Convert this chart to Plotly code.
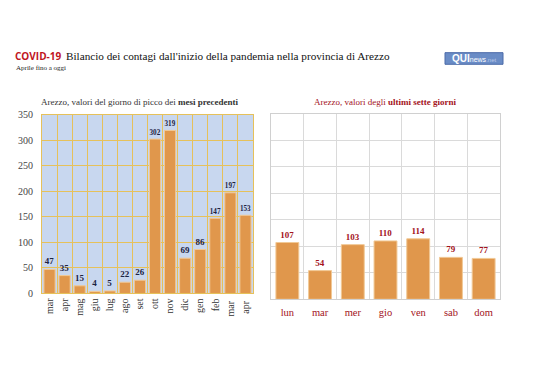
import plotly.graph_objects as go

W, H = 538, 380
OFF = 8  # page body margin
FW, FH = W - 2 * OFF, H - 2 * OFF

months = ["mar", "apr", "mag", "giu", "lug", "ago", "set", "ott", "nov", "dic", "gen", "feb", "mar ", "apr "]
month_vals = [47, 35, 15, 4, 5, 22, 26, 302, 319, 69, 86, 147, 197, 153]

days = ["lun", "mar", "mer", "gio", "ven", "sab", "dom"]
day_vals = [107, 54, 103, 110, 114, 79, 77]

y_ticks = [0, 50, 100, 150, 200, 250, 300, 350]

SERIF = "Liberation Serif"
ORANGE = "#e0974c"
GOLD = "#e6c15a"
NAVY = "#1c2342"
DARKRED = "#a3121c"

def px(x):
    return (x - OFF) / FW

def py(y):
    return 1 - (y - OFF) / FH

fig = go.Figure()

fig.add_trace(go.Bar(
    x=months, y=month_vals, text=month_vals, textposition="outside",
    textfont=dict(family=SERIF, size=9, color=NAVY, weight="bold"),
    marker=dict(color=ORANGE, line=dict(color="#f1c996", width=1)),
    width=0.74, cliponaxis=False, xaxis="x", yaxis="y", showlegend=False,
))

fig.add_trace(go.Bar(
    x=days, y=day_vals, text=day_vals, textposition="outside",
    textfont=dict(family=SERIF, size=9, color=DARKRED, weight="bold"),
    marker=dict(color=ORANGE, line=dict(color="#f1c996", width=1)),
    width=0.7, cliponaxis=False, xaxis="x2", yaxis="y2", showlegend=False,
))

fig.update_layout(
    width=FW, height=FH,
    margin=dict(l=0, r=0, t=0, b=0),
    paper_bgcolor="white",
    plot_bgcolor="white",
    font=dict(family=SERIF, color="#444"),
    xaxis=dict(domain=[px(42), px(253)], anchor="y", type="category",
               tickson="boundaries", showgrid=True, gridcolor=GOLD, gridwidth=1,
               tickangle=-90, tickfont=dict(family=SERIF, size=10, color="#333"),
               showline=True, linecolor=GOLD, mirror=True, ticks="", ticklen=0),
    yaxis=dict(domain=[py(297), py(112)], anchor="x", range=[0, 350],
               tickvals=y_ticks, showgrid=True, gridcolor=GOLD, gridwidth=1,
               tickfont=dict(family=SERIF, size=10, color="#444"),
               showline=True, linecolor=GOLD, mirror=True, zeroline=False,
               ticklabelstandoff=6),
    xaxis2=dict(domain=[px(271), px(500)], anchor="y2", type="category",
                tickson="boundaries", showgrid=True, gridcolor="#dadada", gridwidth=1,
                tickfont=dict(family=SERIF, size=10.5, color=DARKRED),
                showline=True, linecolor="#d0d0d0", mirror=True, ticks="",
                ticklabelstandoff=3),
    yaxis2=dict(domain=[py(303), py(111)], anchor="x2", range=[0, 350],
                tickvals=y_ticks, showgrid=True, gridcolor="#dadada", gridwidth=1,
                showticklabels=False, showline=True, linecolor="#d0d0d0",
                mirror=True, zeroline=False),
)

# Light blue background for left plot
fig.add_shape(type="rect", xref="x domain", yref="y domain", x0=0, x1=1, y0=0, y1=1,
              fillcolor="#c8d7ef", line=dict(width=0), layer="below")

annotations = [
    dict(x=px(13), y=py(51), xref="paper", yref="paper", xanchor="left", yanchor="middle",
         showarrow=False, text="<b>COVID-19</b>",
         font=dict(family="Open Sans", size=10, color="#c0141e")),
    dict(x=px(64), y=py(51), xref="paper", yref="paper", xanchor="left", yanchor="middle",
         showarrow=False,
         text="Bilancio dei contagi dall'inizio della pandemia nella provincia di Arezzo",
         font=dict(family=SERIF, size=11.2, color="#111")),
    dict(x=px(14), y=py(64), xref="paper", yref="paper", xanchor="left", yanchor="middle",
         showarrow=False, text="Aprile fino a oggi",
         font=dict(family=SERIF, size=7, color="#222")),
    dict(x=px(140), y=py(99), xref="paper", yref="paper", xanchor="center", yanchor="middle",
         showarrow=False, text="Arezzo, valori del giorno di picco dei <b>mesi precedenti</b>",
         font=dict(family=SERIF, size=9, color="#333")),
    dict(x=px(385), y=py(99), xref="paper", yref="paper", xanchor="center", yanchor="middle",
         showarrow=False, text="Arezzo, valori degli <b>ultimi sette giorni</b>",
         font=dict(family=SERIF, size=9, color=DARKRED)),
    dict(x=px(474), y=py(54), xref="paper", yref="paper", xanchor="center", yanchor="middle",
         showarrow=False,
         text='<b>QUI</b><span style="font-size:7px">news</span><span style="font-size:6px;color:#b8c8e8">.net</span>',
         font=dict(family="Liberation Sans", size=10, color="white")),
]
fig.update_layout(annotations=annotations)

# Logo box
fig.add_shape(type="rect", xref="paper", yref="paper",
              x0=px(445), x1=px(503), y0=py(60), y1=py(48),
              fillcolor="#6a8cc6", line=dict(color="#4a6aa8", width=1), layer="below")

fig.write_html("out.html")
